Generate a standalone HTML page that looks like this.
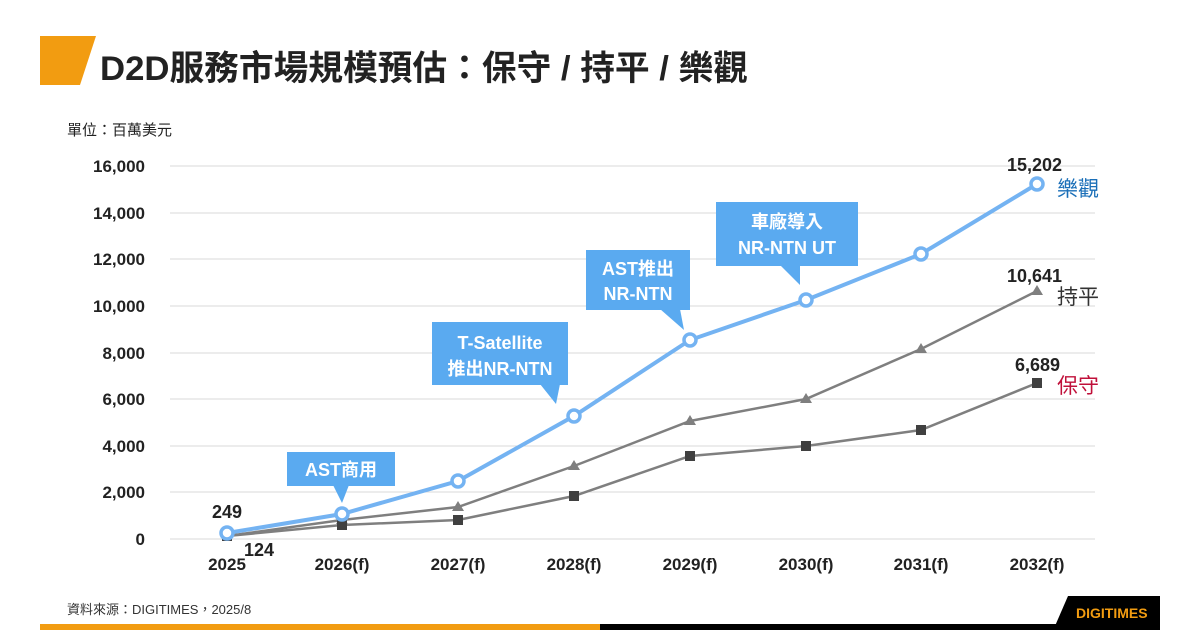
<!DOCTYPE html>
<html><head><meta charset="utf-8"><style>
body{margin:0;width:1200px;height:630px;background:#fff;overflow:hidden;font-family:"Liberation Sans","Noto Sans CJK TC",sans-serif}
</style></head><body>
<svg width="1200" height="630" viewBox="0 0 1200 630" xmlns="http://www.w3.org/2000/svg" font-family="Liberation Sans, Noto Sans CJK TC, sans-serif">
<polygon points="40,36 96,36 80,85 40,85" fill="#f29c11"/>
<text x="100" y="80" font-size="34.5" font-weight="bold" fill="#222" textLength="648" lengthAdjust="spacingAndGlyphs">D2D服務市場規模預估：保守 / 持平 / 樂觀</text>
<text x="67" y="135" font-size="15" fill="#222">單位：百萬美元</text>
<g stroke="#d9d9d9" stroke-width="1">
<line x1="170" x2="1095" y1="166" y2="166"/><line x1="170" x2="1095" y1="213" y2="213"/><line x1="170" x2="1095" y1="259" y2="259"/><line x1="170" x2="1095" y1="306" y2="306"/><line x1="170" x2="1095" y1="353" y2="353"/><line x1="170" x2="1095" y1="399" y2="399"/><line x1="170" x2="1095" y1="446" y2="446"/><line x1="170" x2="1095" y1="492" y2="492"/><line x1="170" x2="1095" y1="539" y2="539"/>
</g>
<g font-size="17" font-weight="bold" fill="#222" text-anchor="end">
<text x="145" y="172">16,000</text><text x="145" y="219">14,000</text><text x="145" y="265">12,000</text><text x="145" y="312">10,000</text><text x="145" y="359">8,000</text><text x="145" y="405">6,000</text><text x="145" y="452">4,000</text><text x="145" y="498">2,000</text><text x="145" y="545">0</text>
</g>
<g font-size="17" font-weight="bold" fill="#222" text-anchor="middle">
<text x="227" y="570">2025</text><text x="342" y="570">2026(f)</text><text x="458" y="570">2027(f)</text><text x="574" y="570">2028(f)</text><text x="690" y="570">2029(f)</text><text x="806" y="570">2030(f)</text><text x="921" y="570">2031(f)</text><text x="1037" y="570">2032(f)</text>
</g>
<polyline fill="none" stroke="#7f7f7f" stroke-width="2.5" points="227,536 342,520 458,507 574,466 690,421 806,399 921,349 1037,291"/>
<polyline fill="none" stroke="#7f7f7f" stroke-width="2.5" points="227,536 342,525 458,520 574,496 690,456 806,446 921,430 1037,383"/>
<g fill="#7f7f7f">
<polygon points="342,514 348,524 336,524"/><polygon points="458,501 464,511 452,511"/><polygon points="574,460 580,470 568,470"/><polygon points="690,415 696,425 684,425"/><polygon points="806,393 812,403 800,403"/><polygon points="921,343 927,353 915,353"/><polygon points="1037,285 1043,295 1031,295"/>
</g>
<g fill="#404040">
<rect x="222" y="531" width="10" height="10"/><rect x="337" y="520" width="10" height="10"/><rect x="453" y="515" width="10" height="10"/><rect x="569" y="491" width="10" height="10"/><rect x="685" y="451" width="10" height="10"/><rect x="801" y="441" width="10" height="10"/><rect x="916" y="425" width="10" height="10"/><rect x="1032" y="378" width="10" height="10"/>
</g>
<polyline fill="none" stroke="#74b3f2" stroke-width="4" points="227,533 342,514 458,481 574,416 690,340 806,300 921,254 1037,184"/>
<g fill="#fff" stroke="#74b3f2" stroke-width="3.5">
<circle cx="227" cy="533" r="6"/><circle cx="342" cy="514" r="6"/><circle cx="458" cy="481" r="6"/><circle cx="574" cy="416" r="6"/><circle cx="690" cy="340" r="6"/><circle cx="806" cy="300" r="6"/><circle cx="921" cy="254" r="6"/><circle cx="1037" cy="184" r="6"/>
</g>
<g font-size="18" font-weight="bold" fill="#222">
<text x="212" y="518">249</text><text x="244" y="556">124</text>
<text x="1007" y="171">15,202</text><text x="1007" y="282">10,641</text><text x="1015" y="371">6,689</text>
</g>
<text x="1057" y="196" font-size="21" fill="#1a6fb8">樂觀</text>
<text x="1057" y="304" font-size="21" fill="#333">持平</text>
<text x="1057" y="393" font-size="21" fill="#c0103a">保守</text>
<g fill="#5aaaf0">
<rect x="287" y="452" width="108" height="34"/><polygon points="333,485 349,485 342,503"/>
<rect x="432" y="322" width="136" height="63"/><polygon points="540,384 560,384 556,404"/>
<rect x="586" y="250" width="104" height="60"/><polygon points="660,309 680,309 684,330"/>
<rect x="716" y="202" width="142" height="64"/><polygon points="780,265 800,265 800,285"/>
</g>
<g font-size="18" font-weight="bold" fill="#fff" text-anchor="middle">
<text x="341" y="476">AST商用</text>
<text x="500" y="349">T-Satellite</text><text x="500" y="375">推出NR-NTN</text>
<text x="638" y="275">AST推出</text><text x="638" y="300">NR-NTN</text>
<text x="787" y="228">車廠導入</text><text x="787" y="254">NR-NTN UT</text>
</g>
<text x="67" y="614" font-size="13" fill="#333">資料來源：DIGITIMES，2025/8</text>
<rect x="40" y="624" width="560" height="6" fill="#f29c11"/>
<rect x="600" y="624" width="560" height="6" fill="#000"/>
<path d="M1068,596 H1160 V626 H1055 Z" fill="#000"/>
<text x="1076" y="618" font-size="14" font-weight="bold" fill="#f29c11">DIGITIMES</text>
</svg>
</body></html>
